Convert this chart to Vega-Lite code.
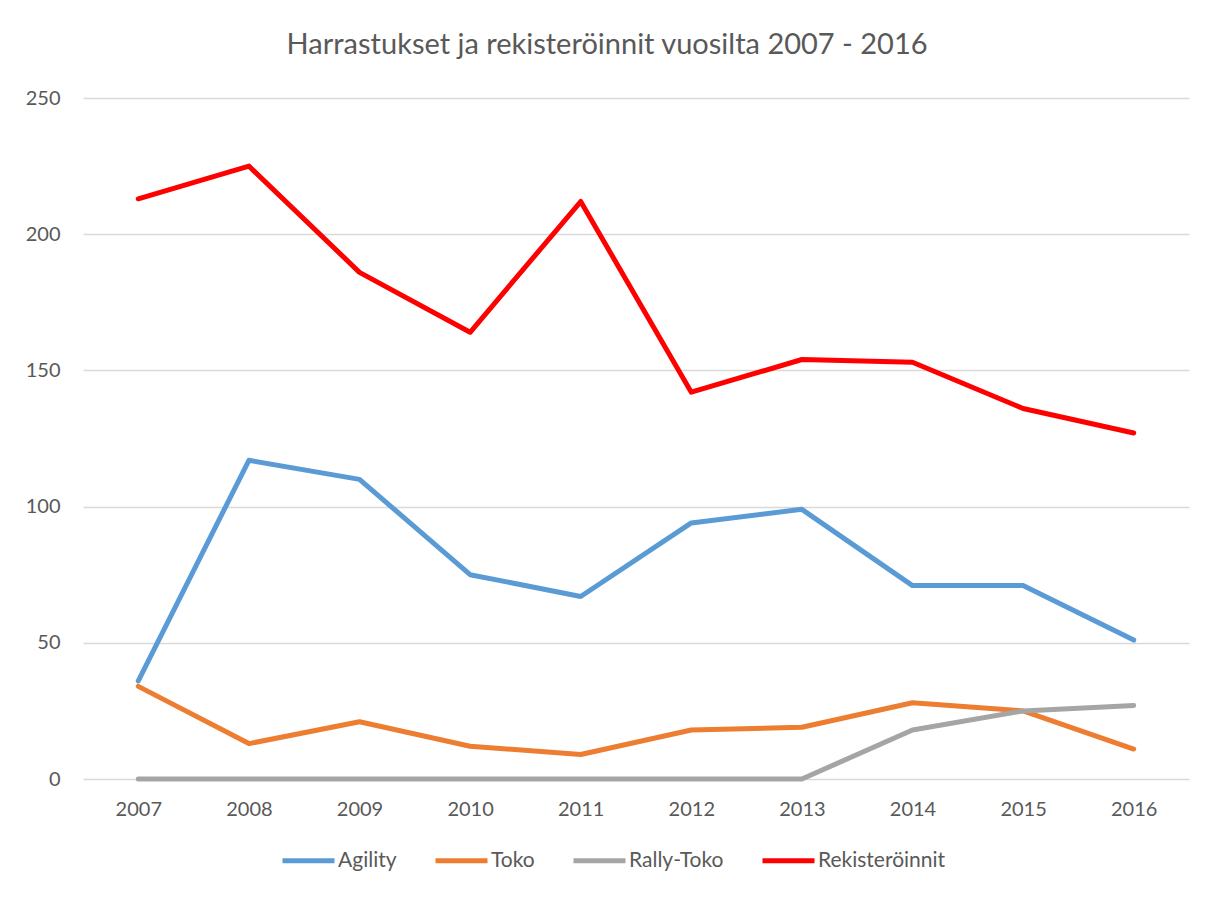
{
  "$schema": "https://vega.github.io/schema/vega-lite/v6.json",
  "autosize": "none",
  "width": 1106,
  "height": 681,
  "padding": {"left": 83, "top": 98, "right": 21, "bottom": 123},
  "background": "white",
  "config": {
    "view": {"stroke": null},
    "font": "Lato"
  },
  "title": {
    "text": "Harrastukset ja rekisteröinnit vuosilta 2007 - 2016",
    "fontSize": 29,
    "fontWeight": "normal",
    "color": "#595959",
    "font": "Lato",
    "anchor": "middle",
    "frame": "bounds",
    "offset": 28
  },
  "data": {
    "values": [
      {"year": "2007", "series": "Agility", "value": 36},
      {"year": "2008", "series": "Agility", "value": 117},
      {"year": "2009", "series": "Agility", "value": 110},
      {"year": "2010", "series": "Agility", "value": 75},
      {"year": "2011", "series": "Agility", "value": 67},
      {"year": "2012", "series": "Agility", "value": 94},
      {"year": "2013", "series": "Agility", "value": 99},
      {"year": "2014", "series": "Agility", "value": 71},
      {"year": "2015", "series": "Agility", "value": 71},
      {"year": "2016", "series": "Agility", "value": 51},
      {"year": "2007", "series": "Toko", "value": 34},
      {"year": "2008", "series": "Toko", "value": 13},
      {"year": "2009", "series": "Toko", "value": 21},
      {"year": "2010", "series": "Toko", "value": 12},
      {"year": "2011", "series": "Toko", "value": 9},
      {"year": "2012", "series": "Toko", "value": 18},
      {"year": "2013", "series": "Toko", "value": 19},
      {"year": "2014", "series": "Toko", "value": 28},
      {"year": "2015", "series": "Toko", "value": 25},
      {"year": "2016", "series": "Toko", "value": 11},
      {"year": "2007", "series": "Rally-Toko", "value": 0},
      {"year": "2008", "series": "Rally-Toko", "value": 0},
      {"year": "2009", "series": "Rally-Toko", "value": 0},
      {"year": "2010", "series": "Rally-Toko", "value": 0},
      {"year": "2011", "series": "Rally-Toko", "value": 0},
      {"year": "2012", "series": "Rally-Toko", "value": 0},
      {"year": "2013", "series": "Rally-Toko", "value": 0},
      {"year": "2014", "series": "Rally-Toko", "value": 18},
      {"year": "2015", "series": "Rally-Toko", "value": 25},
      {"year": "2016", "series": "Rally-Toko", "value": 27},
      {"year": "2007", "series": "Rekisteröinnit", "value": 213},
      {"year": "2008", "series": "Rekisteröinnit", "value": 225},
      {"year": "2009", "series": "Rekisteröinnit", "value": 186},
      {"year": "2010", "series": "Rekisteröinnit", "value": 164},
      {"year": "2011", "series": "Rekisteröinnit", "value": 212},
      {"year": "2012", "series": "Rekisteröinnit", "value": 142},
      {"year": "2013", "series": "Rekisteröinnit", "value": 154},
      {"year": "2014", "series": "Rekisteröinnit", "value": 153},
      {"year": "2015", "series": "Rekisteröinnit", "value": 136},
      {"year": "2016", "series": "Rekisteröinnit", "value": 127}
    ]
  },
  "mark": {"type": "line", "strokeWidth": 5, "strokeCap": "round", "strokeJoin": "round"},
  "encoding": {
    "x": {
      "field": "year",
      "type": "ordinal",
      "scale": {"type": "point", "padding": 0.5},
      "axis": {
        "title": null,
        "labelAngle": 0,
        "labelFontSize": 20,
        "labelColor": "#595959",
        "labelPadding": 20,
        "ticks": false,
        "domain": false,
        "grid": false
      }
    },
    "y": {
      "field": "value",
      "type": "quantitative",
      "scale": {"domain": [0, 250], "nice": false},
      "axis": {
        "title": null,
        "values": [0, 50, 100, 150, 200, 250],
        "labelFontSize": 20,
        "labelColor": "#595959",
        "labelPadding": 23,
        "ticks": false,
        "domain": false,
        "grid": true,
        "gridColor": "#d9d9d9",
        "gridWidth": 1.5
      }
    },
    "color": {
      "field": "series",
      "type": "nominal",
      "scale": {
        "domain": ["Agility", "Toko", "Rally-Toko", "Rekisteröinnit"],
        "range": ["#5b9bd5", "#ed7d31", "#a5a5a5", "#ff0000"]
      },
      "legend": {
        "title": null,
        "orient": "none",
        "direction": "horizontal",
        "legendX": 197,
        "legendY": 734,
        "symbolType": "stroke",
        "symbolSize": 2704,
        "symbolStrokeWidth": 5,
        "labelFontSize": 21,
        "labelColor": "#595959",
        "labelOffset": 1,
        "columnPadding": 28
      }
    }
  }
}
